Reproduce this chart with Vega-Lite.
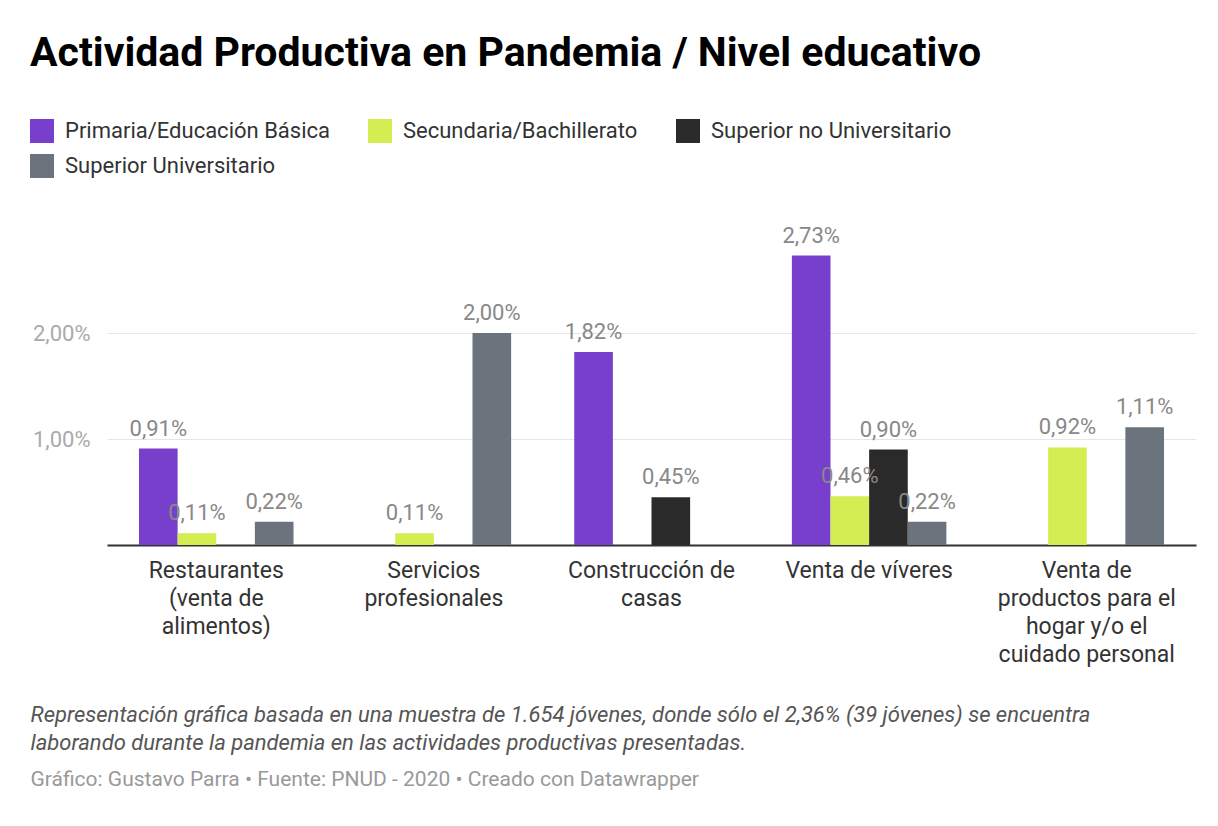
{
  "$schema": "https://vega.github.io/schema/vega-lite/v6.json",
  "width": 1089,
  "height": 318,
  "autosize": {"type": "none"},
  "padding": {"left": 107, "top": 227, "right": 22, "bottom": 281},
  "background": "white",
  "title": {
    "text": "Actividad Productiva en Pandemia / Nivel educativo",
    "anchor": "start",
    "frame": "group",
    "dx": -77,
    "offset": 44,
    "font": "Roboto",
    "fontSize": 41,
    "fontWeight": "bold",
    "color": "#000000"
  },
  "data": {
    "values": [
      {"actividad": "Restaurantes (venta de alimentos)", "nivel": "Primaria/Educación Básica", "valor": 0.0091},
      {"actividad": "Restaurantes (venta de alimentos)", "nivel": "Secundaria/Bachillerato", "valor": 0.0011},
      {"actividad": "Restaurantes (venta de alimentos)", "nivel": "Superior Universitario", "valor": 0.0022},
      {"actividad": "Servicios profesionales", "nivel": "Secundaria/Bachillerato", "valor": 0.0011},
      {"actividad": "Servicios profesionales", "nivel": "Superior Universitario", "valor": 0.02},
      {"actividad": "Construcción de casas", "nivel": "Primaria/Educación Básica", "valor": 0.0182},
      {"actividad": "Construcción de casas", "nivel": "Superior no Universitario", "valor": 0.0045},
      {"actividad": "Venta de víveres", "nivel": "Primaria/Educación Básica", "valor": 0.0273},
      {"actividad": "Venta de víveres", "nivel": "Secundaria/Bachillerato", "valor": 0.0046},
      {"actividad": "Venta de víveres", "nivel": "Superior no Universitario", "valor": 0.009},
      {"actividad": "Venta de víveres", "nivel": "Superior Universitario", "valor": 0.0022},
      {"actividad": "Venta de productos para el hogar y/o el cuidado personal", "nivel": "Secundaria/Bachillerato", "valor": 0.0092},
      {"actividad": "Venta de productos para el hogar y/o el cuidado personal", "nivel": "Superior Universitario", "valor": 0.0111}
    ]
  },
  "encoding": {
    "x": {
      "field": "actividad",
      "type": "nominal",
      "sort": ["Restaurantes (venta de alimentos)", "Servicios profesionales", "Construcción de casas", "Venta de víveres", "Venta de productos para el hogar y/o el cuidado personal"],
      "scale": {"paddingInner": 0.29, "paddingOuter": 0.147},
      "axis": {
        "title": ["Representación gráfica basada en una muestra de 1.654 jóvenes, donde sólo el 2,36% (39 jóvenes) se encuentra", "laborando durante la pandemia en las actividades productivas presentadas."],
        "titleX": -77,
        "titleY": 159,
        "titleAlign": "left",
        "titleAnchor": "start",
        "titleBaseline": "top",
        "titleFont": "Roboto",
        "titleFontStyle": "italic",
        "titleFontWeight": "normal",
        "titleFontSize": 22,
        "titleColor": "#555555",
        "titleLineHeight": 28,
        "labelExpr": "datum.value === 'Restaurantes (venta de alimentos)' ? ['Restaurantes', '(venta de', 'alimentos)'] : datum.value === 'Servicios profesionales' ? ['Servicios', 'profesionales'] : datum.value === 'Construcción de casas' ? ['Construcción de', 'casas'] : datum.value === 'Venta de víveres' ? ['Venta de víveres'] : ['Venta de', 'productos para el', 'hogar y/o el', 'cuidado personal']",
        "labelAngle": 0,
        "labelFont": "Roboto",
        "labelFontSize": 23,
        "labelColor": "#333333",
        "labelLineHeight": 28,
        "labelPadding": 14,
        "labelLimit": 400,
        "ticks": false,
        "tickSize": 0,
        "domainColor": "#333333",
        "domainWidth": 2,
        "grid": false
      }
    },
    "xOffset": {
      "field": "nivel",
      "type": "nominal",
      "scale": {"domain": ["Primaria/Educación Básica", "Secundaria/Bachillerato", "Superior no Universitario", "Superior Universitario"]}
    },
    "y": {
      "field": "valor",
      "type": "quantitative",
      "scale": {"domain": [0, 0.03], "nice": false, "zero": true},
      "axis": {
        "values": [0.01, 0.02],
        "format": ".2%",
        "title": "Gráfico: Gustavo Parra • Fuente: PNUD - 2020 • Creado con Datawrapper",
        "titleAngle": 0,
        "titleX": -77,
        "titleY": 552,
        "titleAlign": "left",
        "titleAnchor": "start",
        "titleBaseline": "middle",
        "titleFont": "Roboto",
        "titleFontSize": 21,
        "titleFontWeight": "normal",
        "titleColor": "#999999",
        "domain": false,
        "ticks": false,
        "tickSize": 0,
        "labelFont": "Roboto",
        "labelFontSize": 22,
        "labelColor": "#aaaaaa",
        "labelPadding": 17,
        "grid": true,
        "gridColor": "#e6e6e6",
        "gridWidth": 1
      }
    }
  },
  "layer": [
    {
      "mark": {"type": "bar"},
      "encoding": {
        "color": {
          "field": "nivel",
          "type": "nominal",
          "scale": {
            "domain": ["Primaria/Educación Básica", "Secundaria/Bachillerato", "Superior no Universitario", "Superior Universitario"],
            "range": ["#783fcd", "#d4ed52", "#2a2a2a", "#6b737c"]
          },
          "legend": {
            "title": null,
            "orient": "none",
            "legendX": -77,
            "legendY": -108,
            "direction": "horizontal",
            "columns": 3,
            "symbolType": "square",
            "symbolSize": 576,
            "symbolStrokeWidth": 0,
            "symbolOpacity": 1,
            "labelFont": "Roboto",
            "labelFontSize": 22,
            "labelColor": "#333333",
            "labelOffset": 11,
            "labelLimit": 400,
            "columnPadding": 38,
            "rowPadding": 11,
            "padding": 0
          }
        }
      }
    },
    {
      "mark": {"type": "text", "dy": -13, "baseline": "alphabetic", "align": "center", "font": "Roboto", "fontSize": 22, "color": "#888888"},
      "encoding": {
        "text": {"field": "valor", "type": "quantitative", "format": ".2%"}
      }
    }
  ],
  "config": {
    "font": "Roboto",
    "view": {"stroke": null},
    "locale": {
      "number": {"decimal": ",", "thousands": ".", "grouping": [3], "currency": ["", " €"]}
    }
  }
}
